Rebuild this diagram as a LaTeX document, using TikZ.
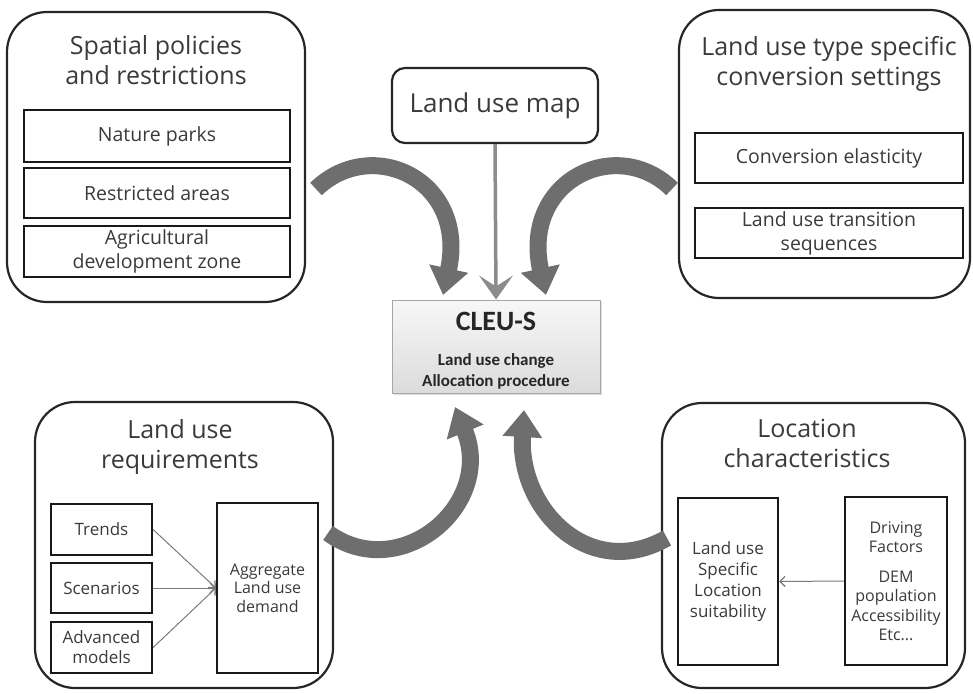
\documentclass[tikz,border=0pt]{standalone}
\usepackage{fontspec}
\setmainfont{Open Sans}
\newfontfamily\cfont{Carlito}
\usetikzlibrary{arrows.meta,shadows}
\definecolor{txt}{HTML}{3A3A3A}
\definecolor{arrgray}{HTML}{6E6E6E}
\definecolor{mapgray}{HTML}{8C8C8C}
\definecolor{thingray}{HTML}{7A7A7A}
\begin{document}
\begin{tikzpicture}[x=1pt,y=-1pt,
  outerbox/.style={draw=black!85,line width=2.2pt,rounded corners=40pt,inner sep=0pt},
  mapbox/.style={draw=black!85,line width=2.2pt,rounded corners=13pt,inner sep=0pt,font=\fontsize{26}{30}\selectfont,text=txt},
  innerbox/.style={draw=black!90,line width=2.2pt,inner sep=0pt,align=center,text=txt,font=\fontsize{19.5}{24}\selectfont},
  smallbox/.style={draw=black!90,line width=2.2pt,inner sep=0pt,align=center,text=txt,font=\fontsize{17}{20}\selectfont},
  titletext/.style={inner sep=0pt,align=center,text=txt,font=\fontsize{25}{30}\selectfont},
  curvy/.style={draw=arrgray,line width=17pt,-{Triangle[length=27pt,width=38pt]}},
  mapshaft/.style={draw=mapgray,line width=3.5pt,shorten >=12pt},
  thinarrow/.style={draw=thingray,line width=1pt,-{Straight Barb[length=5pt,width=10pt,line width=1.3pt]}}
]
\useasboundingbox (0,0) rectangle (973,693);

% top-left
\node[outerbox,minimum width=298pt,minimum height=290pt] (tl) at (156,157) {};
\node[titletext] (tlt) at (156,60) {Spatial policies\\and restrictions};
\node[innerbox,minimum width=266pt,minimum height=52pt] (np) at (157,136) {Nature parks};
\node[innerbox,minimum width=266pt,minimum height=50pt] (ra) at (157,193) {Restricted areas};
\node[innerbox,minimum width=266pt,minimum height=51pt] (ag) at (157,251.5) {Agricultural\\development zone};

% top-right
\node[outerbox,minimum width=291pt,minimum height=288pt] (tr) at (824.5,154) {};
\node[titletext] (trt) at (829,64) {Land use type specific\\conversion settings};
\node[innerbox,minimum width=268pt,minimum height=50pt] (ce) at (829,158) {Conversion elasticity};
\node[innerbox,minimum width=268pt,minimum height=50pt] (lt) at (829,233) {Land use transition\\sequences};

% map
\node[mapbox,minimum width=206pt,minimum height=75pt] (map) at (495,105.5) {Land use map};

% center
\node[draw=gray!70,line width=1pt,top color=gray!6,bottom color=gray!28,
      minimum width=208pt,minimum height=93pt,inner sep=0pt,
      drop shadow={shadow xshift=2pt,shadow yshift=-2pt,opacity=0.25}] (cleu) at (496,346.5) {};
\node[inner sep=0pt,font=\cfont\bfseries\fontsize{28}{30}\selectfont,text=black!85] (cleut) at (496,321) {CLEU-S};
\node[inner sep=0pt,align=center,font=\cfont\bfseries\fontsize{17}{21}\selectfont,text=black!85] (cleus) at (496,371) {Land use change\\Allocation procedure};

% bottom-left
\node[outerbox,minimum width=298pt,minimum height=286pt] (bl) at (184,545) {};
\node[titletext] (blt) at (180,447) {Land use\\requirements};
\node[smallbox,minimum width=101pt,minimum height=51pt] (trn) at (101.5,529.5) {Trends};
\node[smallbox,minimum width=101pt,minimum height=50pt] (scn) at (101.5,588) {Scenarios};
\node[smallbox,minimum width=101pt,minimum height=51pt] (adv) at (101.5,647.5) {Advanced\\models};
\node[smallbox,minimum width=101pt,minimum height=170pt,font=\fontsize{16}{18.5}\selectfont] (agg) at (267.5,588) {Aggregate\\Land use\\demand};

% bottom-right
\node[outerbox,minimum width=303pt,minimum height=285pt] (br) at (813.5,545.5) {};
\node[titletext] (brt) at (807,443) {Location\\characteristics};
\node[smallbox,minimum width=100pt,minimum height=167pt,font=\fontsize{17}{21}\selectfont] (lus) at (728,581.5) {Land use\\Specific\\Location\\suitability};
\node[smallbox,minimum width=102pt,minimum height=168pt,font=\fontsize{16}{19.5}\selectfont] (drv) at (896,581) {Driving\\Factors\\[10pt]DEM\\population\\Accessibility\\Etc...};

% thin arrows
\draw[thinarrow] (trn.east) -- (agg.west);
\draw[thinarrow] (scn.east) -- (agg.west);
\draw[thinarrow] (adv.east) -- (agg.west);
\draw[thinarrow] (drv.west) -- (lus.east);

% map arrow (shaft + chevron head)
\draw[mapshaft] (map.south) -- (cleu.north);
\fill[mapgray] (cleu.north) -- ++(-17,-24) -- ++(17,11) -- ++(17,-11) -- cycle;

% curved arrows
\coordinate (t1) at (316,189);
\coordinate (h1) at (443,295);
\coordinate (t2) at (672,189);
\coordinate (h2) at (546,295);
\coordinate (t3) at (328,533);
\coordinate (h3) at (455,407);
\coordinate (t4) at (667,538);
\coordinate (h4) at (524,410);
\draw[curvy] (t1) .. controls (372,135) and (468,180) .. (h1);
\draw[curvy] (t2) .. controls (617,135) and (521,180) .. (h2);
\draw[curvy] (t3) .. controls (400,585) and (495,505) .. (h3);
\draw[curvy] (t4) .. controls (590,582) and (518,510) .. (h4);
\end{tikzpicture}
\end{document}
